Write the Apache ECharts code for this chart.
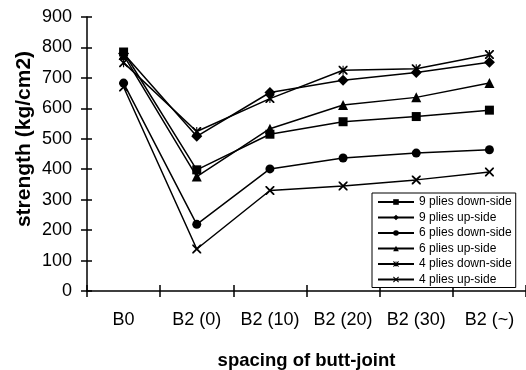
<!DOCTYPE html>
<html>
<head>
<meta charset="utf-8">
<script src="https://cdn.jsdelivr.net/npm/echarts@6/dist/echarts.min.js"></script>
<style>
html,body{margin:0;padding:0;background:#fff;}
#chart{width:526px;height:370px;}
</style>
</head>
<body>
<div id="chart"></div>
<script>
// categories / values
const categories = ['B0', 'B2 (0)', 'B2 (10)', 'B2 (20)', 'B2 (30)', 'B2 (~)'];
const ply9Down = [785, 398, 515, 556, 573, 594];
const ply9Up = [780, 508, 652, 692, 718, 751];
const ply6Down = [683, 219, 401, 437, 453, 464];
const ply6Up = [775, 376, 533, 611, 636, 683];
const ply4Down = [750, 524, 632, 725, 730, 777];
const ply4Up = [670, 138, 330, 345, 365, 391];
const yTicks = {min: 0, max: 900, interval: 100};

const xPath = 'path://M0,0 L1.4,0 L5,3.6 L8.6,0 L10,0 L10,1.4 L6.4,5 L10,8.6 L10,10 L8.6,10 L5,6.4 L1.4,10 L0,10 L0,8.6 L3.6,5 L0,1.4 Z';
const starPath = 'path://M0,0 L1.4,0 L5,3.6 L8.6,0 L10,0 L10,1.4 L6.4,5 L10,8.6 L10,10 L8.6,10 L5,6.4 L1.4,10 L0,10 L0,8.6 L3.6,5 L0,1.4 Z M4.4,0 L5.6,0 L5.6,10 L4.4,10 Z';

function mkSeries(name, data, symbol, size){
    return {
        name: name,
        type: 'line',
        data: data,
        symbol: symbol,
        symbolSize: size,
        lineStyle: {color: '#000', width: 1.5},
        itemStyle: {color: '#000'},
        emphasis: {disabled: true},
        animation: false
    };
}

const chart = echarts.init(document.getElementById('chart'));
const font = 'Arial, "Liberation Sans", sans-serif';
chart.setOption({
    animation: false,
    textStyle: {fontFamily: font},
    grid: {left: 87, right: 0, top: 17, bottom: 79, containLabel: false, outerBoundsMode: 'none'},
    legend: {
        orient: 'vertical',
        left: 372,
        top: 193,
        width: 143,
        padding: [2, 4, 1, 5],
        itemWidth: 36,
        itemHeight: 7,
        itemGap: 1.5,
        borderColor: '#000',
        borderWidth: 1,
        backgroundColor: '#fff',
        textStyle: {fontSize: 12, color: '#000', fontFamily: font, lineHeight: 14},
        data: ['9 plies down-side', '9 plies up-side', '6 plies down-side', '6 plies up-side', '4 plies down-side', '4 plies up-side']
    },
    xAxis: [{
        type: 'category',
        data: categories,
        boundaryGap: true,
        axisLine: {lineStyle: {color: '#000', width: 1.5}},
        axisTick: {show: true, length: 6, lineStyle: {color: '#000', width: 1.5}},
        axisLabel: {color: '#000', fontSize: 18, margin: 20, fontFamily: font, interval: 0, hideOverlap: false},
        splitLine: {show: false},
        name: 'spacing of butt-joint',
        nameLocation: 'middle',
        nameGap: 60,
        nameTextStyle: {fontSize: 18.5, fontWeight: 'bold', color: '#000', fontFamily: font}
    }, {
        type: 'category',
        data: categories,
        position: 'bottom',
        axisLine: {show: false},
        axisTick: {show: true, inside: true, length: 6, lineStyle: {color: '#000', width: 1.5}},
        axisLabel: {show: false}
    }],
    yAxis: [{
        type: 'value',
        min: yTicks.min,
        max: yTicks.max,
        interval: yTicks.interval,
        axisLine: {show: true, lineStyle: {color: '#000', width: 1.5}},
        axisTick: {show: true, length: 6, lineStyle: {color: '#000', width: 1.5}},
        axisLabel: {color: '#000', fontSize: 18, margin: 15, fontFamily: font},
        splitLine: {show: false}
    }, {
        type: 'value',
        min: yTicks.min,
        max: yTicks.max,
        interval: yTicks.interval,
        position: 'left',
        axisLine: {show: false},
        axisTick: {show: true, inside: true, length: 5, lineStyle: {color: '#000', width: 1.5}},
        axisLabel: {show: false},
        splitLine: {show: false}
    }],
    graphic: [{
        type: 'text',
        x: 24,
        y: 139,
        rotation: Math.PI / 2,
        style: {
            text: 'strength (kg/cm2)',
            font: 'bold 21px ' + font,
            fill: '#000',
            align: 'center',
            verticalAlign: 'middle'
        }
    }],
    series: [
        mkSeries('9 plies down-side', ply9Down, 'rect', 9),
        mkSeries('9 plies up-side', ply9Up, 'diamond', 11),
        mkSeries('6 plies down-side', ply6Down, 'circle', 9),
        mkSeries('6 plies up-side', ply6Up, 'triangle', 10),
        mkSeries('4 plies down-side', ply4Down, starPath, 9),
        mkSeries('4 plies up-side', ply4Up, xPath, 9)
    ]
});
</script>
</body>
</html>
